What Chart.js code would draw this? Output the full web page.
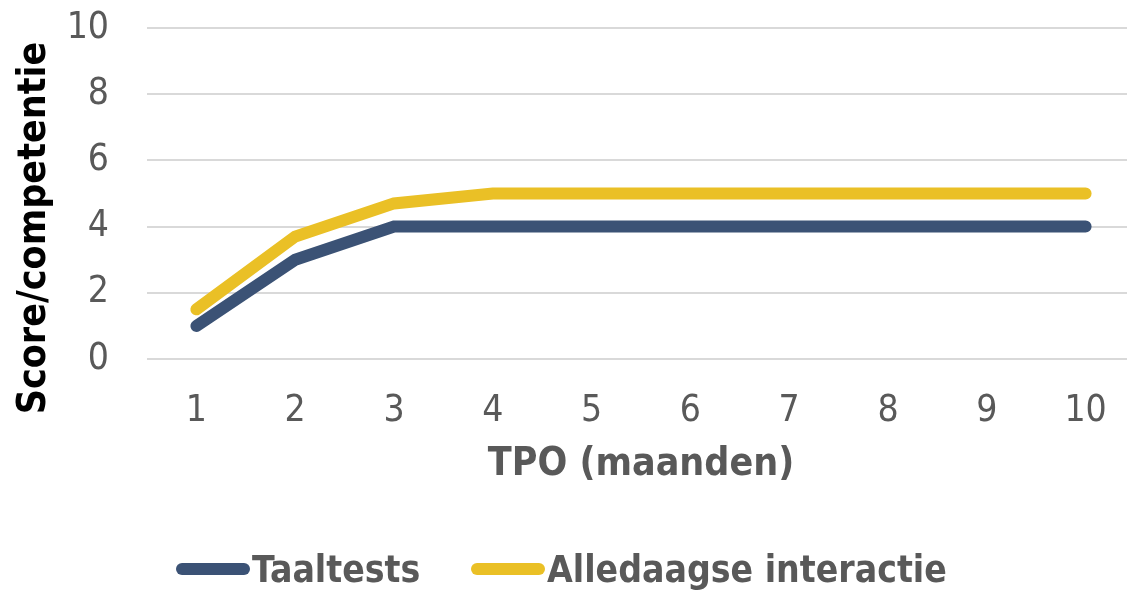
<!DOCTYPE html>
<html>
<head>
<meta charset="utf-8">
<script src="https://cdn.jsdelivr.net/npm/chart.js@4/dist/chart.umd.min.js"></script>
<style>
    body { margin: 0; background: #ffffff; }
    #wrap { position: relative; width: 1127px; height: 590px; overflow: hidden; }
    #legend { position: absolute; top: 548px; left: 0; height: 42px; }
    .item { position: absolute; top: 0; display: flex; align-items: center; height: 42px;
            font-family: "DejaVu Sans Condensed", "DejaVu Sans", sans-serif; font-weight: bold;
            font-size: 37px; color: #595959; white-space: nowrap; }
    .swatch { width: 74px; height: 12px; border-radius: 6px; margin-right: 2px; }
</style>
</head>
<body>
<div id="wrap">
    <canvas id="grafico" width="1135" height="590"></canvas>
    <div id="legend"></div>
</div>
<script>
// dados
var categorias = ['1', '2', '3', '4', '5', '6', '7', '8', '9', '10'];
var taaltests = [1, 3, 4, 4, 4, 4, 4, 4, 4, 4];
var alledaagse = [1.5, 3.7, 4.7, 5, 5, 5, 5, 5, 5, 5];
var nomesSeries = ['Taaltests', 'Alledaagse interactie'];
var coresSeries = ['#3b5275', '#eac026'];

var fonte = '"DejaVu Sans Condensed", "DejaVu Sans", sans-serif';

// título do eixo y desenhado à mão (fica mais baixo que o centro)
const tituloY = {
    id: 'tituloY',
    afterDraw(chart) {
        const ctx = chart.ctx;
        ctx.save();
        ctx.translate(35, 228);
        ctx.rotate(-Math.PI / 2);
        ctx.font = 'bold 39px ' + fonte;
        ctx.fillStyle = '#000000';
        ctx.textAlign = 'center';
        ctx.textBaseline = 'middle';
        ctx.fillText('Score/competentie', 0, 0);
        ctx.restore();
    }
};

const data = {
    labels: categorias,
    datasets: [{
        label: nomesSeries[0],
        data: taaltests,
        borderColor: coresSeries[0],
        backgroundColor: coresSeries[0]
    },
    {
        label: nomesSeries[1],
        data: alledaagse,
        borderColor: coresSeries[1],
        backgroundColor: coresSeries[1]
    }]
};

const config = {
    type: 'line',
    data: data,
    plugins: [tituloY],
    options: {
        responsive: false,
        animation: false,
        devicePixelRatio: 1,
        layout: {
            padding: { top: 28, bottom: 90, left: 0, right: 0 }
        },
        elements: {
            point: { radius: 0, hoverRadius: 0 },
            line: { borderWidth: 12, borderCapStyle: 'round', borderJoinStyle: 'miter', tension: 0 }
        },
        plugins: {
            legend: { display: false },
            tooltip: { enabled: false }
        },
        scales: {
            x: {
                offset: true,
                grid: { display: false, drawTicks: false, offset: true },
                border: { display: false },
                ticks: {
                    color: '#595959',
                    padding: 30,
                    font: { family: fonte, size: 37 }
                },
                title: {
                    display: true,
                    text: 'TPO (maanden)',
                    color: '#595959',
                    font: { family: fonte, size: 39, weight: 'bold' },
                    padding: { top: 0, bottom: 12 }
                },
                afterFit(scale) {
                    scale.height = 141;
                    scale.paddingLeft = 0;
                    scale.paddingRight = 0;
                }
            },
            y: {
                min: 0,
                max: 10,
                ticks: {
                    stepSize: 2,
                    color: '#595959',
                    padding: 38,
                    font: { family: fonte, size: 37 }
                },
                grid: { color: '#d9d9d9', lineWidth: 2, drawTicks: false },
                border: { display: false },
                afterFit(scale) {
                    scale.width = 147;
                    scale.paddingTop = 0;
                    scale.paddingBottom = 0;
                }
            }
        }
    }
};

const chartTPO = new Chart(document.getElementById('grafico'), config);

// legenda em html
var posLegenda = [176, 471];
var htmlLegenda = '';
for (var i = 0; i < nomesSeries.length; i++) {
    htmlLegenda += `
    <div class="item" style="left:${posLegenda[i]}px">
        <span class="swatch" style="background:${coresSeries[i]}"></span>
        <span>${nomesSeries[i]}</span>
    </div>`;
}
document.getElementById('legend').innerHTML = htmlLegenda;
</script>
</body>
</html>
